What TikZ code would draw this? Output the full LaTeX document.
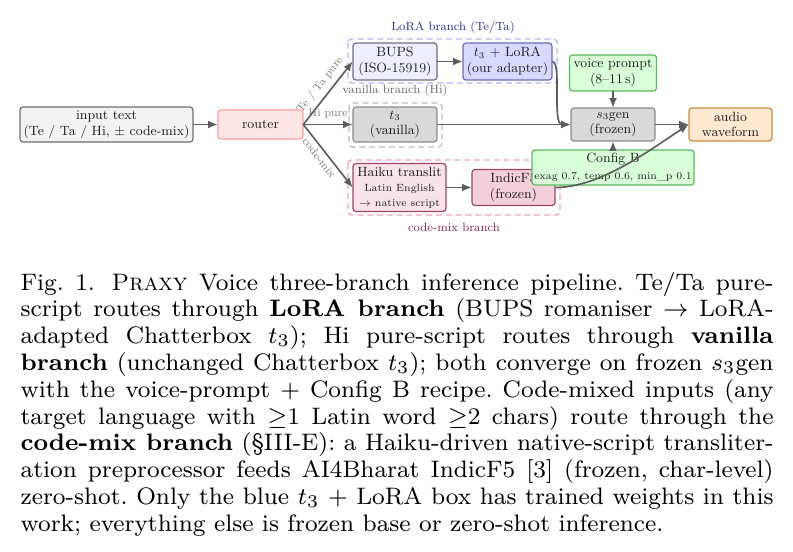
\documentclass[tikz,border=0pt]{standalone}
\usetikzlibrary{arrows.meta}
\definecolor{txt}{HTML}{1E1E1E}
\definecolor{edgec}{HTML}{5C5C5C}
\definecolor{elabc}{HTML}{7A7A7A}
\definecolor{lblgray}{HTML}{6A6A6A}
\definecolor{loralbl}{HTML}{2A2AA0}
\definecolor{cmlbl}{HTML}{8C2452}
\definecolor{inF}{HTML}{F2F2F2}\definecolor{inD}{HTML}{6E6E6E}
\definecolor{rtF}{HTML}{FFE6E6}\definecolor{rtD}{HTML}{FF9E9E}
\definecolor{bpF}{HTML}{EEEEFF}\definecolor{bpD}{HTML}{6E6E86}
\definecolor{loF}{HTML}{D9D9FF}\definecolor{loD}{HTML}{6A6AC0}
\definecolor{gyF}{HTML}{D9D9D9}\definecolor{gyD}{HTML}{8A8A8A}
\definecolor{hkF}{HTML}{F9E3EA}\definecolor{hkD}{HTML}{A04466}
\definecolor{ifF}{HTML}{F2CFDB}
\definecolor{grF}{HTML}{D9FFD9}\definecolor{grD}{HTML}{5CB85C}
\definecolor{auF}{HTML}{FFE8D2}\definecolor{auD}{HTML}{D08A40}
\definecolor{loC}{HTML}{B3B3FF}\definecolor{vaC}{HTML}{BBBBBB}\definecolor{cmC}{HTML}{F5A0C0}
\tikzset{
  box/.style={draw, rounded corners=1pt, line width=0.4pt, align=center,
    font=\fontsize{9}{10.5}\selectfont, text=txt, inner sep=1pt},
  arr/.style={-{Latex[length=3.2pt,width=2.6pt]}, line width=0.55pt, draw=edgec},
  elab/.style={font=\fontsize{7.5}{9}\selectfont, text=elabc, inner sep=1pt},
  clab/.style={font=\fontsize{8}{9.6}\selectfont, inner sep=0.5pt},
  cont/.style={dash pattern=on 2pt off 1.3pt, line width=0.4pt, rounded corners=1.2pt},
}
\newcommand{\smalltxt}{\fontsize{7}{8.4}\selectfont}
\begin{document}
\begin{tikzpicture}[x=0.3356pt,y=-0.3356pt]
\useasboundingbox (0,0) rectangle (793,551);
\begin{scope}[x=0.6712pt,y=-0.6712pt,scale=0.5,transform shape]
% containers
\draw[cont, draw=loC] (348,39) rectangle (557,83);
\draw[cont, draw=vaC] (349,103) rectangle (442,147);
\draw[cont, draw=cmC] (348,160) rectangle (560,215);
\node[clab, text=loralbl] (lorall) at (453,27.5) {LoRA branch (Te/Ta)};
\node[clab, text=lblgray] (vanl) at (395,90.5) {vanilla branch (Hi)};
\node[clab, text=cmlbl] (cml) at (454,227) {code-mix branch};
% nodes
\node[box, fill=inF, draw=inD, minimum width=116.1pt, minimum height=23.5pt] (inp) at (106.5,124.5) {input text\\(Te / Ta / Hi, $\pm$ code-mix)};
\node[box, fill=rtF, draw=rtD, minimum width=57.1pt, minimum height=19.5pt] (router) at (260.5,124.5) {router};
\node[box, fill=bpF, draw=bpD, minimum width=56.4pt, minimum height=24.8pt] (bups) at (395,61.5) {BUPS\\(ISO-15919)};
\node[box, fill=loF, draw=loD, minimum width=59.7pt, minimum height=24.8pt] (lora) at (507.5,61.5) {$t_3$ + LoRA\\(our adapter)};
\node[box, fill=gyF, draw=gyD, minimum width=56.4pt, minimum height=23.5pt] (t3v) at (395,124.5) {$t_3$\\(vanilla)};
\node[box, fill=hkF, draw=hkD, minimum width=62.4pt, minimum height=32.2pt] (haiku) at (399.5,187.5) {Haiku translit\\[0pt]{\smalltxt Latin English}\\[-1pt]{\smalltxt $\rightarrow$ native script}};
\node[box, fill=ifF, draw=hkD, minimum width=55.7pt, minimum height=24.2pt] (indic) at (513.5,187.5) {IndicF5\\(frozen)};
\node[box, fill=grF, draw=grD, minimum width=58.4pt, minimum height=24.2pt] (voice) at (613,73) {voice prompt\\(8--11\,s)};
\node[box, fill=gyF, draw=gyD, minimum width=56.4pt, minimum height=22.1pt] (s3) at (613,124.5) {$s_3$gen\\(frozen)};
\node[box, fill=auF, draw=auD, minimum width=55.7pt, minimum height=22.1pt] (audio) at (730.5,124.5) {audio\\waveform};
\node[box, fill=grF, draw=grD, minimum width=108.7pt, minimum height=23.5pt] (cfg) at (613,167.5) {Config B\\[1pt]{\smalltxt exag 0.7, temp 0.6, min\_p 0.1}};
% connectors
\draw[arr] (inp) -- (router);
\draw[arr] (router.east) -- node[elab, sloped, above=2.5pt, pos=0.52] {Te / Ta pure} (bups.west);
\draw[arr] (router.east) -- node[elab, above=2.5pt] {Hi pure} (t3v.west);
\draw[arr] (router.east) -- node[elab, sloped, below=1.5pt, pos=0.45] {code-mix} (haiku.west);
\draw[arr] (bups) -- (lora);
\draw[arr] (haiku) -- (indic);
\draw[arr] (t3v) -- (s3);
\draw[arr] (lora.east) .. controls +(10,0) and +(-19,0) .. (s3.west);
\draw[arr] (voice) -- (s3);
\draw[arr] (cfg) -- (s3);
\draw[arr] (s3) -- (audio);
\draw[arr] (indic.east) .. controls +(45,0) and +(-39,25.5) .. (audio.west);
\end{scope}
% caption
\node[anchor=base west, inner sep=0, text=black] (cap) at (20,290) {\parbox[t]{252.7pt}{\fontsize{8}{9}\selectfont
\tolerance=9999\hyphenpenalty=10000\exhyphenpenalty=10000\frenchspacing
Fig.~1.\hskip 0.7em\textsc{Praxy} Voice three-branch inference pipeline. Te/Ta pure-\linebreak
script routes through \textbf{LoRA branch} (BUPS romaniser $\rightarrow$ LoRA-\linebreak
adapted Chatterbox $t_3$); Hi pure-script routes through \textbf{vanilla}\linebreak
\textbf{branch} (unchanged Chatterbox $t_3$); both converge on frozen $s_3$gen\linebreak
with the voice-prompt + Config B recipe. Code-mixed inputs (any\linebreak
target language with $\geq$1 Latin word $\geq$2 chars) route through the\linebreak
\textbf{code-mix branch} (\S III-E): a Haiku-driven native-script transliter-\linebreak
ation preprocessor feeds AI4Bharat IndicF5 [3] (frozen, char-level)\linebreak
zero-shot. Only the blue $t_3$ + LoRA box has trained weights in this\linebreak
work; everything else is frozen base or zero-shot inference.}};
\end{tikzpicture}
\end{document}
